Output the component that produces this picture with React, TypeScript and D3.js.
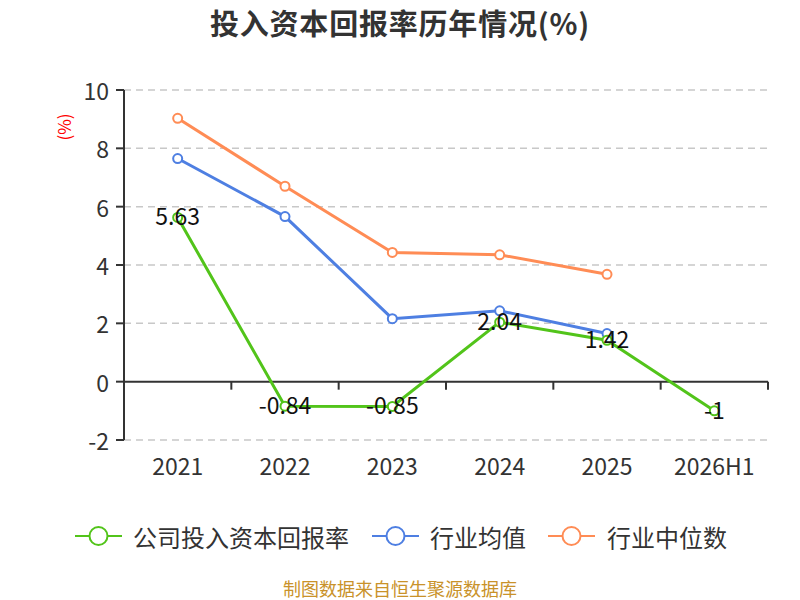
import React from "react";
import * as d3 from "d3";

const categories = ["2021", "2022", "2023", "2024", "2025", "2026H1"];
const companyValues: (number | null)[] = [5.63, -0.84, -0.85, 2.04, 1.42, -1];
const industryAvg: (number | null)[] = [7.65, 5.66, 2.16, 2.43, 1.65, null];
const industryMedian: (number | null)[] = [9.03, 6.7, 4.43, 4.35, 3.68, null];
const yTicks = [-2, 0, 2, 4, 6, 8, 10];

const series = [
  { name: "公司投入资本回报率", values: companyValues, color: "#52c41a" },
  { name: "行业均值", values: industryAvg, color: "#4e7fe2" },
  { name: "行业中位数", values: industryMedian, color: "#ff8c55" },
];

const W = 800;
const H = 600;
const left = 124;
const right = 768;
const top = 90;
const bottom = 440;
const font = "'Noto Sans CJK SC', 'Noto Sans', sans-serif";

export default function App() {
  const x = d3.scaleBand<string>().domain(categories).range([left, right]);
  const y = d3.scaleLinear().domain([-2, 10]).range([bottom, top]);
  const cx = (c: string) => (x(c) ?? 0) + x.bandwidth() / 2;

  const line = d3
    .line<{ c: string; v: number | null }>()
    .defined((d) => d.v !== null)
    .x((d) => cx(d.c))
    .y((d) => y(d.v as number));

  const legendItems = [
    { x: 75, tx: 133 },
    { x: 372, tx: 430 },
    { x: 548, tx: 607 },
  ];

  return (
    <svg
      width={W}
      height={H}
      style={{ position: "absolute", left: 0, top: 0, background: "#fff" }}
      fontFamily={font}
    >
      <text x={400} y={35} textAnchor="middle" fontSize={29} fontWeight="bold" fill="#333" letterSpacing={0.8}>
        投入资本回报率历年情况(%)
      </text>

      {yTicks.map((t) => (
        <g key={t}>
          {t !== 0 && (
            <line
              x1={left}
              x2={right}
              y1={y(t)}
              y2={y(t)}
              stroke="#c8c8c8"
              strokeWidth={1.5}
              strokeDasharray="7 5"
            />
          )}
          <line x1={left - 8} x2={left} y1={y(t)} y2={y(t)} stroke="#333" strokeWidth={2} />
          <text
            x={left - 15}
            y={y(t)}
            textAnchor="end"
            dominantBaseline="central"
            fontSize={23}
            fill="#333"
          >
            {t}
          </text>
        </g>
      ))}

      <line x1={left} x2={left} y1={top} y2={bottom} stroke="#333" strokeWidth={2} />
      <text
        transform={`translate(63,127) rotate(-90)`}
        textAnchor="middle"
        dominantBaseline="central"
        fontSize={17}
        fill="#ff0000"
      >
        (%)
      </text>

      <line x1={left} x2={right} y1={y(0)} y2={y(0)} stroke="#333" strokeWidth={2} />
      {categories.map((c, i) => (
        <line
          key={"t" + i}
          x1={(x(c) ?? 0) + x.bandwidth()}
          x2={(x(c) ?? 0) + x.bandwidth()}
          y1={y(0)}
          y2={y(0) + 8}
          stroke="#333"
          strokeWidth={2}
        />
      ))}
      {categories.map((c) => (
        <text key={c} x={cx(c)} y={465} textAnchor="middle" dominantBaseline="central" fontSize={23} fill="#333">
          {c}
        </text>
      ))}

      {series
        .slice()
        .reverse()
        .map((s) => {
          const data = categories.map((c, i) => ({ c, v: s.values[i] }));
          return (
            <g key={s.name}>
              <path d={line(data) ?? ""} fill="none" stroke={s.color} strokeWidth={3} />
              {data
                .filter((d) => d.v !== null)
                .map((d) => (
                  <circle
                    key={d.c}
                    cx={cx(d.c)}
                    cy={y(d.v as number)}
                    r={4.5}
                    fill="#fff"
                    stroke={s.color}
                    strokeWidth={2}
                  />
                ))}
            </g>
          );
        })}

      {categories.map((c, i) =>
        companyValues[i] !== null ? (
          <text
            key={"l" + c}
            x={cx(c)}
            y={y(companyValues[i] as number) - 2}
            textAnchor="middle"
            dominantBaseline="central"
            fontSize={23}
            fill="#111"
          >
            {companyValues[i]}
          </text>
        ) : null
      )}

      {series.map((s, i) => (
        <g key={"lg" + i}>
          <line x1={legendItems[i].x} x2={legendItems[i].x + 47} y1={536} y2={536} stroke={s.color} strokeWidth={2} />
          <circle cx={legendItems[i].x + 23.5} cy={536} r={9} fill="#fff" stroke={s.color} strokeWidth={2} />
          <text x={legendItems[i].tx} y={536} dominantBaseline="central" fontSize={24} fill="#333">
            {s.name}
          </text>
        </g>
      ))}

      <text x={400} y={588} textAnchor="middle" dominantBaseline="central" fontSize={18} fill="#c9922a">
        制图数据来自恒生聚源数据库
      </text>
    </svg>
  );
}
